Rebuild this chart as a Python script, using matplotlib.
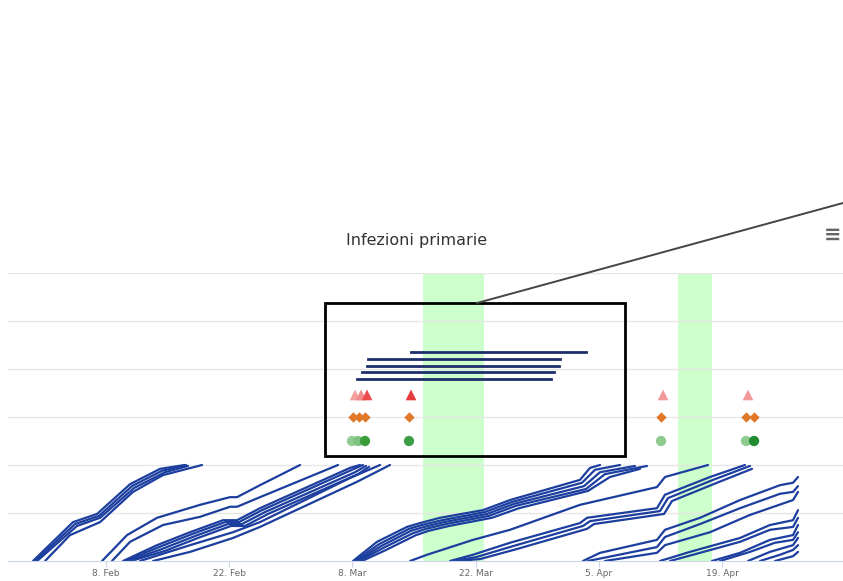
import numpy as np
import matplotlib
matplotlib.use("Agg")
import matplotlib.pyplot as plt
import matplotlib.dates as mdates
from matplotlib.patches import Rectangle

# days are counted from 8 Feb 2021, values on a 0..6 scale
base_date = np.datetime64("2021-02-08")
tick_dates = ["2021-02-08", "2021-02-22", "2021-03-08", "2021-03-22", "2021-04-05", "2021-04-19"]

# shaded periods (start day, end day)
band_start = [36.0, 65.0]
band_end = [42.9, 68.9]

# cumulative curves, first group (late Jan - mid Feb)
group_a_days = [
    [-8.30, -3.75, -1.02, 2.73, 6.14, 8.98],
    [-8.07, -3.52, -0.80, 2.95, 6.36, 9.09],
    [-7.84, -3.30, -0.68, 3.18, 6.70, 9.32],
    [-6.93, -4.09, -0.68, 3.07, 6.48, 10.91],
]
group_a_vals = [
    [0, 0.81, 0.98, 1.60, 1.92, 2.0],
    [0, 0.77, 0.94, 1.56, 1.88, 2.0],
    [0, 0.73, 0.90, 1.52, 1.85, 1.98],
    [0, 0.54, 0.81, 1.44, 1.79, 2.0],
]

# second group (Feb - early Mar)
group_b_days = [
    [-0.45, 2.39, 5.80, 10.68, 14.09, 14.89, 17.50, 22.05],
    [0.68, 2.73, 6.48, 10.68, 14.09, 14.89, 17.50, 26.36],
    [1.93, 5.80, 9.55, 13.30, 14.89, 17.50, 27.73, 28.86],
    [2.16, 6.02, 9.77, 13.52, 15.11, 17.73, 27.95, 29.20],
    [2.50, 6.36, 10.11, 13.86, 15.45, 18.07, 28.30, 29.55],
    [2.84, 6.70, 10.45, 14.20, 15.80, 18.41, 28.64, 29.89],
    [3.86, 9.55, 14.43, 17.50, 27.73, 31.14],
    [5.34, 9.55, 14.43, 17.50, 28.52, 32.27],
]
group_b_vals = [
    [0, 0.54, 0.90, 1.17, 1.33, 1.33, 1.58, 2.0],
    [0, 0.40, 0.75, 0.92, 1.13, 1.13, 1.33, 2.0],
    [0, 0.33, 0.60, 0.85, 0.85, 1.10, 1.94, 2.0],
    [0, 0.29, 0.56, 0.81, 0.81, 1.06, 1.90, 2.0],
    [0, 0.25, 0.52, 0.77, 0.77, 1.02, 1.85, 1.98],
    [0, 0.21, 0.48, 0.73, 0.73, 0.98, 1.81, 1.96],
    [0, 0.33, 0.60, 0.81, 1.73, 2.0],
    [0, 0.19, 0.48, 0.71, 1.65, 2.0],
]

# third group (Mar - Apr)
group_c_days = [
    [28.07, 30.80, 34.20, 35.68, 37.95, 42.84, 45.91, 53.86, 55.00, 56.14],
    [28.30, 31.02, 34.43, 35.91, 38.18, 43.07, 46.14, 54.09, 55.57, 58.41],
    [28.52, 31.25, 34.66, 36.14, 38.41, 43.30, 46.36, 54.32, 56.14, 60.11],
    [28.75, 31.48, 34.89, 36.36, 38.64, 43.52, 46.59, 54.55, 56.70, 61.48],
    [29.09, 31.82, 35.23, 36.70, 38.98, 43.86, 46.93, 54.77, 57.27, 60.68],
    [34.55, 36.48, 41.70, 45.91, 53.86, 62.61, 63.52, 68.41],
    [39.09, 41.70, 45.91, 53.86, 54.66, 62.61, 63.52, 68.64, 72.61],
    [39.43, 42.05, 46.25, 54.20, 55.00, 62.95, 63.86, 68.98, 73.18],
    [39.89, 42.50, 46.70, 54.66, 55.45, 63.41, 64.32, 69.43, 73.41],
]
group_c_vals = [
    [0, 0.40, 0.71, 0.79, 0.90, 1.06, 1.27, 1.69, 1.94, 2.0],
    [0, 0.35, 0.67, 0.75, 0.85, 1.02, 1.23, 1.63, 1.90, 2.0],
    [0, 0.31, 0.63, 0.71, 0.81, 0.98, 1.19, 1.56, 1.85, 1.98],
    [0, 0.27, 0.58, 0.67, 0.77, 0.94, 1.15, 1.50, 1.81, 1.98],
    [0, 0.23, 0.54, 0.63, 0.73, 0.90, 1.10, 1.46, 1.75, 1.92],
    [0, 0.13, 0.44, 0.65, 1.17, 1.54, 1.75, 2.0],
    [0, 0.13, 0.38, 0.79, 0.90, 1.10, 1.38, 1.75, 2.0],
    [0, 0.08, 0.31, 0.73, 0.83, 1.04, 1.31, 1.69, 1.98],
    [0, 0.04, 0.25, 0.67, 0.77, 0.98, 1.25, 1.63, 1.92],
]

# fourth group (Apr, still running)
group_d_days = [
    [54.20, 56.14, 62.61, 63.52, 67.50, 72.05, 76.59, 78.07, 78.64],
    [54.77, 62.61, 63.52, 67.50, 72.05, 76.59, 78.07, 78.64],
    [56.70, 62.61, 63.52, 68.64, 73.18, 78.07, 78.64],
    [62.95, 66.36, 72.05, 75.45, 78.07, 78.64],
    [64.09, 67.50, 72.05, 75.45, 78.07, 78.64],
    [68.86, 72.05, 75.45, 78.07, 78.64],
    [69.77, 73.18, 76.02, 78.07, 78.64],
    [72.95, 75.45, 78.07, 78.64],
    [74.32, 76.59, 78.07, 78.64],
    [76.02, 78.07, 78.64],
]
group_d_vals = [
    [0, 0.17, 0.44, 0.65, 0.90, 1.27, 1.58, 1.63, 1.75],
    [0, 0.29, 0.50, 0.77, 1.10, 1.40, 1.44, 1.56],
    [0, 0.17, 0.33, 0.60, 0.96, 1.27, 1.44],
    [0, 0.19, 0.48, 0.75, 0.85, 1.06],
    [0, 0.17, 0.40, 0.65, 0.71, 0.90],
    [0, 0.17, 0.44, 0.54, 0.75],
    [0, 0.19, 0.38, 0.44, 0.60],
    [0, 0.19, 0.33, 0.48],
    [0, 0.13, 0.23, 0.33],
    [0, 0.10, 0.19],
]

# highlighted intervals inside the box
span_start = [34.66, 29.77, 29.66, 29.09, 28.52]
span_end = [54.55, 51.59, 51.48, 50.91, 50.57]
span_level = [4.35, 4.21, 4.06, 3.94, 3.79]

# event markers
tri_days = [28.30, 28.98, 29.66, 34.66, 63.30, 72.95]
tri_colors = ["#f5a0a0", "#f28c8c", "#ec4c4c", "#e63b3b", "#f29a9a", "#f29a9a"]
dia_days = [28.07, 28.75, 29.43, 34.43, 63.07, 72.73, 73.64]
cir_days = [27.95, 28.64, 29.43, 34.43, 63.07, 72.73, 73.64]
cir_colors = ["#93cc93", "#80c380", "#3a9c3a", "#3d9e47", "#8fca8f", "#8fca8f", "#1f8c2f"]
tri_level, dia_level, cir_level = 3.46, 3.0, 2.5

# box around the intervals (days / values)
box_x0, box_x1 = 24.89, 58.98
box_y0, box_y1 = 2.19, 5.375


def to_num(days):
    return mdates.date2num(base_date) + np.asarray(days, dtype=float)


fig = plt.figure(figsize=(8.43, 5.81), dpi=100)
ax = fig.add_axes([8 / 843, 20 / 581, 835 / 843, 288 / 581])

for s, e in zip(band_start, band_end):
    ax.axvspan(to_num(s), to_num(e), color="#ccffcc", lw=0, zorder=0)

for g in (1, 2, 3, 4, 5, 6):
    ax.axhline(g, color="#e6e6e6", lw=1, zorder=0.5)

curve_color = "#1c3e9e"
for days_list, vals_list in ((group_a_days, group_a_vals), (group_b_days, group_b_vals),
                             (group_c_days, group_c_vals), (group_d_days, group_d_vals)):
    for d, v in zip(days_list, vals_list):
        ax.plot(to_num(d), v, color=curve_color, lw=1.6, solid_joinstyle="round",
                solid_capstyle="round", zorder=2)

for s, e, lv in zip(span_start, span_end, span_level):
    ax.plot(to_num([s, e]), [lv, lv], color="#1d2f6b", lw=2, zorder=3)

ax.scatter(to_num(tri_days), [tri_level] * len(tri_days), marker="^", s=60,
           c=tri_colors, lw=0, zorder=4)
ax.scatter(to_num(dia_days), [dia_level] * len(dia_days), marker="D", s=28,
           c="#e07828", lw=0, zorder=4)
ax.scatter(to_num(cir_days), [cir_level] * len(cir_days), marker="o", s=55,
           c=cir_colors, lw=0, zorder=4)

ax.add_patch(Rectangle((to_num(box_x0), box_y0), box_x1 - box_x0, box_y1 - box_y0,
                       fill=False, ec="black", lw=2, zorder=5, clip_on=False))
ax.annotate("", xy=(to_num(42.16), box_y1), xycoords="data",
            xytext=(1.0, 378 / 581), textcoords="figure fraction",
            arrowprops=dict(arrowstyle="-", color="#444444", lw=1.4, shrinkA=0, shrinkB=0),
            annotation_clip=False, zorder=6)

ax.set_xlim(to_num(-11.14), to_num(83.75))
ax.set_ylim(0, 6)
ax.set_yticks([])
ax.set_xticks(mdates.date2num(np.array(tick_dates, dtype="datetime64[D]")))
ax.xaxis.set_major_formatter(mdates.DateFormatter("%-d. %b"))
ax.tick_params(axis="x", length=4, color="#ccd6eb", labelsize=6.5, labelcolor="#666666", pad=1.5)
for side in ("top", "left", "right"):
    ax.spines[side].set_visible(False)
ax.spines["bottom"].set_color("#ccd6eb")

fig.text(417 / 843, 340 / 581, "Infezioni primarie", ha="center", va="center",
         fontsize=11.5, color="#333333")
fig.text(833 / 843, 346 / 581, "\u2261", ha="center", va="center", fontsize=15,
         color="#666666", fontweight="bold")

fig.savefig("out.png", dpi=100)
